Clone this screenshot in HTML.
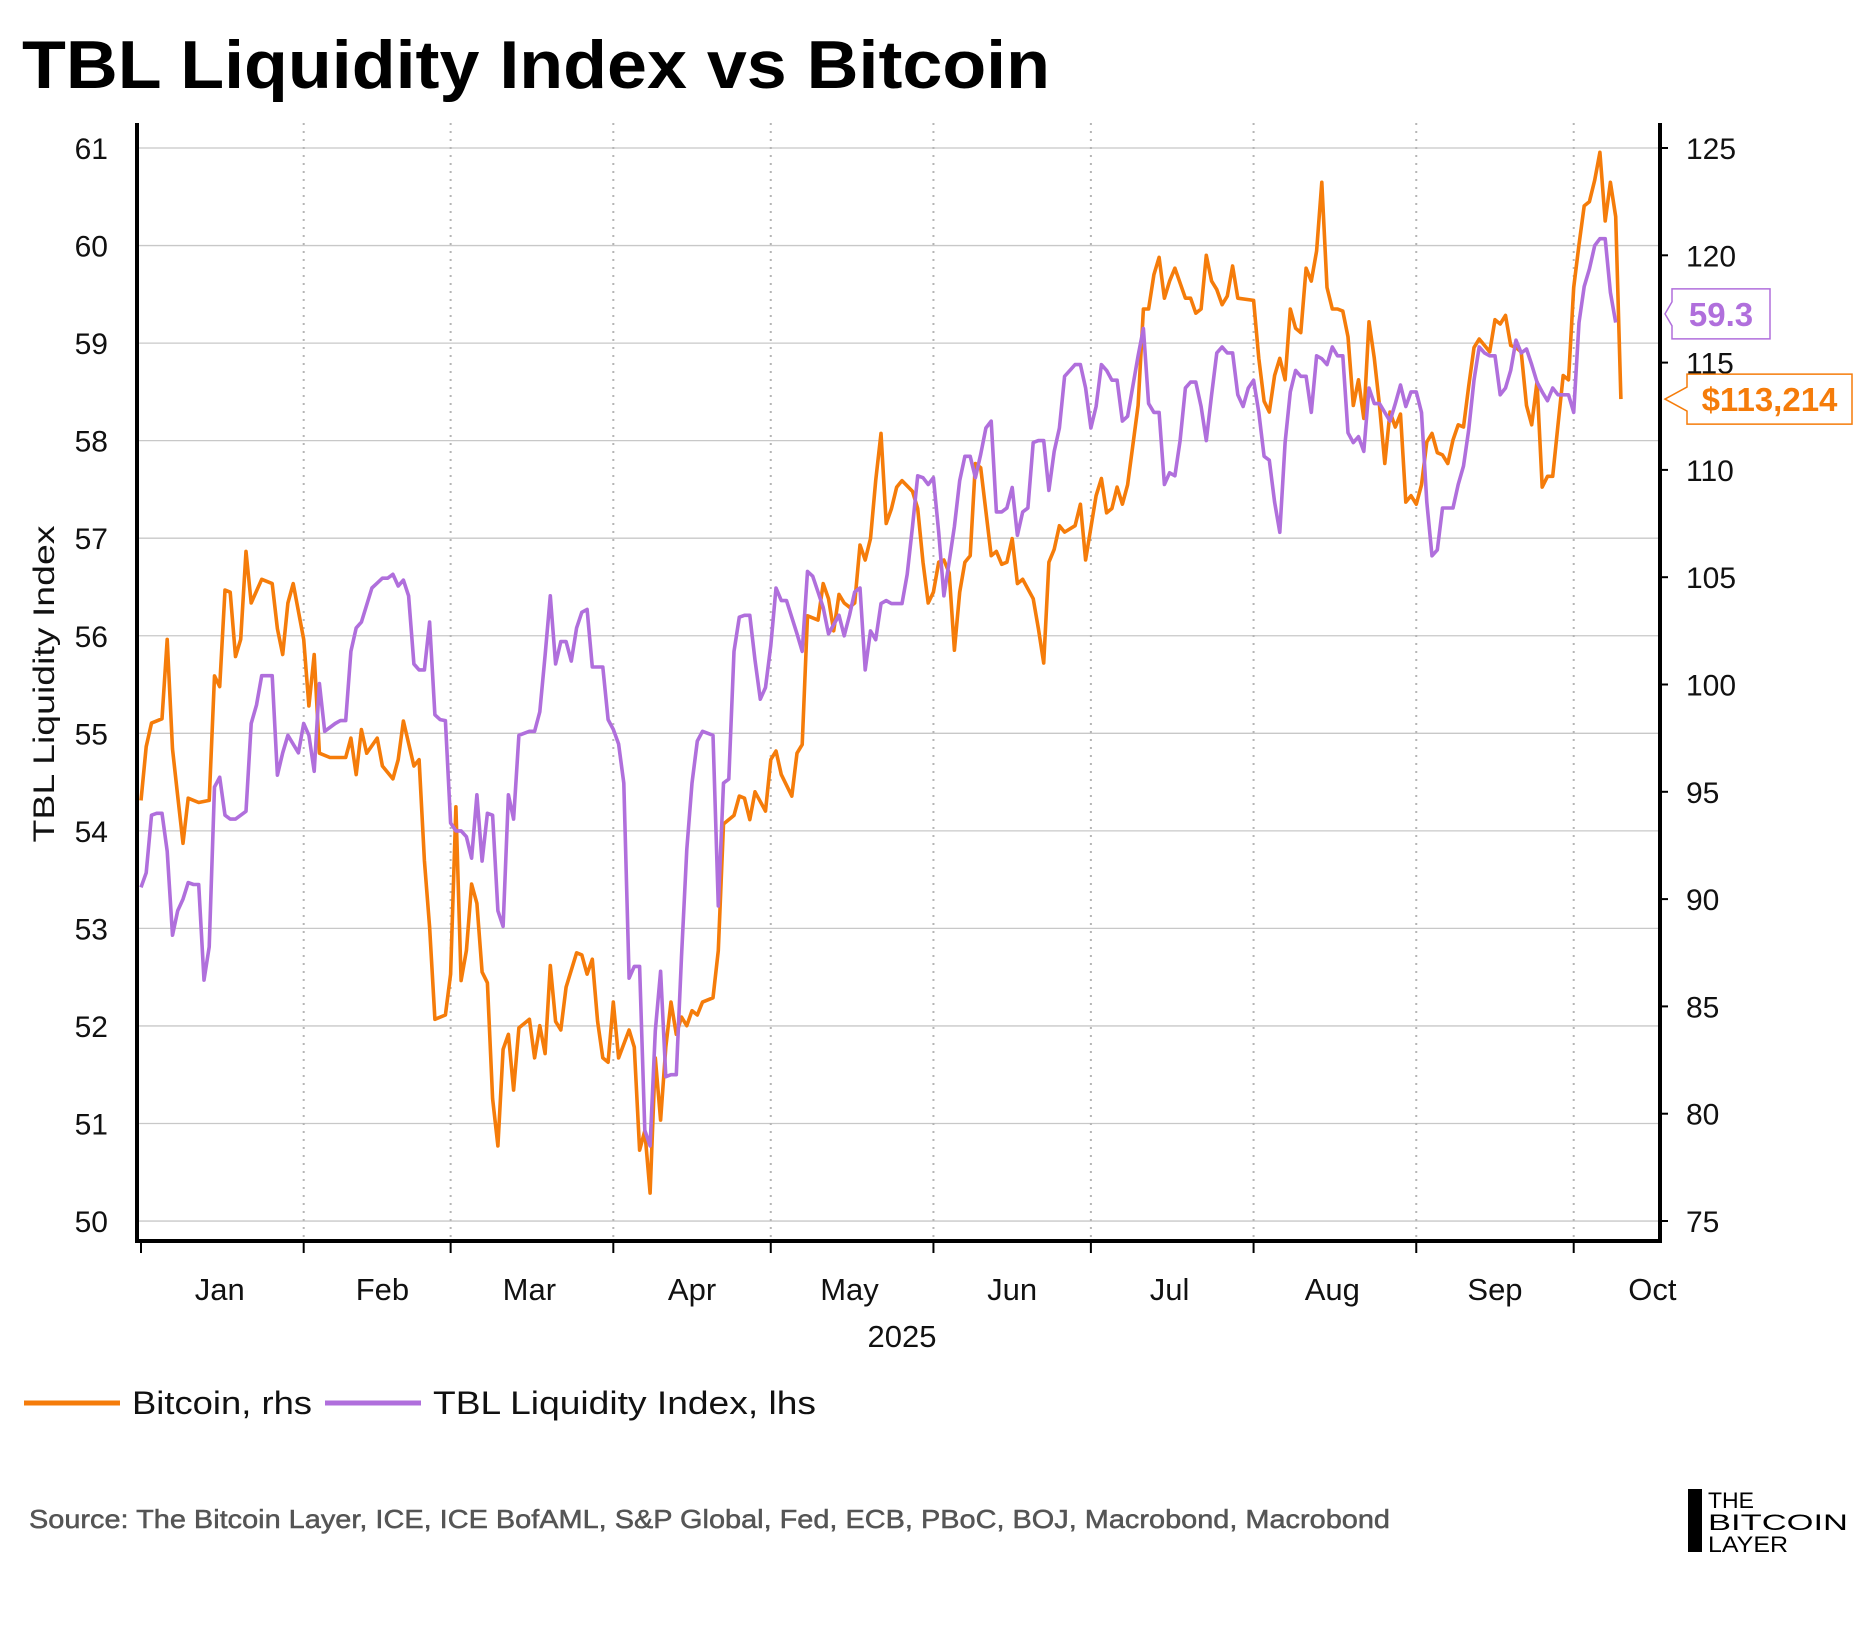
<!DOCTYPE html>
<html><head><meta charset="utf-8"><style>
html,body{margin:0;padding:0;background:#fff;}
svg{display:block;font-family:"Liberation Sans",sans-serif;}
</style></head><body>
<svg id="chart" width="1875" height="1625" viewBox="0 0 1875 1625" xmlns="http://www.w3.org/2000/svg">
<text x="22" y="88" font-size="68" font-weight="bold" fill="#000" textLength="1028" lengthAdjust="spacingAndGlyphs">TBL Liquidity Index vs Bitcoin</text>
<g id="grid"></g>
<g id="marks"></g>
<g id="axes"></g>
<text transform="translate(54,684) rotate(-90)" text-anchor="middle" font-size="30" fill="#111" textLength="317" lengthAdjust="spacingAndGlyphs">TBL Liquidity Index</text>
<text x="902" y="1347" text-anchor="middle" font-size="31" fill="#111">2025</text>
<g>
<line x1="24" y1="1403" x2="120" y2="1403" stroke="#f57c0a" stroke-width="5"/>
<text x="132" y="1414" font-size="32" fill="#111" textLength="180" lengthAdjust="spacingAndGlyphs">Bitcoin, rhs</text>
<line x1="325" y1="1403" x2="421" y2="1403" stroke="#b06fdc" stroke-width="5"/>
<text x="433" y="1414" font-size="32" fill="#111" textLength="383" lengthAdjust="spacingAndGlyphs">TBL Liquidity Index, lhs</text>
</g>
<text x="29" y="1528" font-size="26" fill="#555" stroke="#555" stroke-width="0.5" textLength="1361" lengthAdjust="spacingAndGlyphs">Source: The Bitcoin Layer, ICE, ICE BofAML, S&amp;P Global, Fed, ECB, PBoC, BOJ, Macrobond, Macrobond</text>
<g>
<rect x="1688" y="1489" width="14" height="63" fill="#000"/>
<text x="1708" y="1508" font-size="22" fill="#000" textLength="46" lengthAdjust="spacingAndGlyphs">THE</text>
<text x="1708" y="1530" font-size="22" fill="#000" textLength="140" lengthAdjust="spacingAndGlyphs">BITCOIN</text>
<text x="1708" y="1552" font-size="22" fill="#000" textLength="80" lengthAdjust="spacingAndGlyphs">LAYER</text>
</g>
</svg>
<script>
const months=["Jan","Feb","Mar","Apr","May","Jun","Jul","Aug","Sep","Oct"];
const monthStartDays=[0,31,59,90,120,151,181,212,243,273];
const lhsTicks=[50,51,52,53,54,55,56,57,58,59,60,61];
const rhsTicks=[75,80,85,90,95,100,105,110,115,120,125];
const btcDays=[0,1,2,4,5,6,7,8,9,11,13,14,15,16,17,18,19,20,21,23,25,26,27,28,29,31,32,33,34,36,39,40,41,42,43,45,46,48,49,50,52,53,54,55,56,58,59,60,61,62,63,64,65,66,67,68,69,70,71,72,74,75,76,77,78,79,80,81,83,84,85,86,87,88,89,90,91,93,94,95,96,97,98,99,100,101,102,103,104,105,106,107,109,110,111,113,114,115,116,117,119,120,121,122,124,125,126,127,129,130,131,132,133,134,135,136,137,138,139,140,141,142,143,144,145,147,148,149,150,151,152,153,154,155,156,157,158,159,160,162,163,164,165,166,167,168,170,171,172,173,174,175,176,178,179,180,182,183,184,185,186,187,188,190,191,192,193,194,195,196,197,199,200,201,202,203,204,205,206,207,208,209,212,213,214,215,216,217,218,219,220,221,222,223,224,225,226,227,228,229,230,231,232,233,234,235,236,237,238,239,240,241,242,243,244,245,246,247,248,249,250,251,252,253,254,255,256,257,258,259,260,261,262,263,264,265,266,267,268,269,270,271,272,273,274,275,276,277,278,279,280,281,282];
const btcValues=[94.6,97.1,98.2,98.4,102.1,97,94.8,92.6,94.7,94.5,94.6,100.4,99.9,104.4,104.3,101.3,102.1,106.2,103.8,104.9,104.7,102.6,101.4,103.8,104.7,102.1,99,101.4,96.8,96.6,96.6,97.5,95.8,97.9,96.8,97.5,96.2,95.6,96.5,98.3,96.2,96.5,91.8,88.7,84.4,84.6,86.5,94.3,86.2,87.6,90.7,89.8,86.6,86.1,80.7,78.5,83,83.7,81.1,84,84.4,82.6,84.1,82.8,86.9,84.3,83.9,85.9,87.5,87.4,86.5,87.2,84.3,82.6,82.4,85.2,82.6,83.9,83.1,78.3,79.2,76.3,82.6,79.7,83.1,85.2,83.7,84.5,84.1,84.8,84.6,85.2,85.4,87.6,93.5,93.9,94.8,94.7,93.7,95,94.1,96.5,96.9,95.8,94.8,96.8,97.2,103.2,103,104.7,104,102.5,104.2,103.8,103.6,103.8,106.5,105.8,106.8,109.5,111.7,107.5,108.2,109.2,109.5,109,108.2,105.7,103.8,104.3,105.7,105.8,105.2,101.6,104.3,105.7,106,110.3,110.1,106,106.2,105.6,105.7,106.8,104.7,104.9,104,102.6,101,105.7,106.3,107.4,107.1,107.4,108.4,105.8,108.8,109.6,108,108.2,109.2,108.4,109.3,113,117.5,117.5,119.1,119.9,118,118.8,119.4,118,118,117.3,117.5,120,118.8,118.4,117.7,118.1,119.5,118,117.9,115.2,113.2,112.7,114.4,115.2,114.2,117.5,116.6,116.4,119.4,118.8,120.2,123.4,118.5,117.5,117.5,117.4,116.2,113,114.2,112.4,116.9,115.2,113,110.3,112.7,112,112.6,108.5,108.8,108.4,109.3,111.3,111.7,110.8,110.7,110.3,111.4,112.1,112,113.9,115.7,116.1,115.8,115.5,117,116.8,117.2,115.8,115.7,115.5,113,112.1,114.1,109.2,109.7,109.7,112.1,114.4,114.2,118.5,120.5,122.3,122.5,123.5,124.8,121.6,123.4,121.8,113.3];
const liqDays=[0,1,2,3,4,5,6,7,8,9,10,11,12,13,14,15,16,17,18,20,21,22,23,24,25,26,27,28,30,31,32,33,34,35,37,38,39,40,41,42,44,45,46,47,48,49,50,51,52,53,54,55,56,57,58,59,60,61,62,63,64,65,66,67,68,69,70,71,72,74,75,76,77,78,79,80,81,82,83,84,85,86,88,89,90,91,92,93,94,95,96,97,98,99,100,101,102,103,104,105,106,107,109,110,111,112,113,114,115,116,117,118,119,120,121,122,123,125,126,127,128,129,130,131,133,134,135,136,137,138,139,140,141,142,143,145,146,147,148,149,150,151,152,153,154,155,156,157,158,159,160,161,162,163,164,165,166,167,168,169,170,171,172,173,174,175,176,177,178,179,180,181,182,183,184,185,186,187,188,190,191,192,193,194,195,196,197,198,199,200,201,202,203,204,205,206,207,208,209,210,211,212,213,214,215,216,217,218,219,220,221,222,223,224,225,226,227,228,229,230,231,232,233,234,235,236,237,238,239,240,241,242,243,244,245,246,247,248,249,250,251,252,253,254,255,256,257,258,259,260,261,262,263,264,265,266,267,268,269,270,271,272,273,274,275,276,277,278,279,280,281];
const liqValues=[53.42,53.57,54.16,54.18,54.18,53.79,52.93,53.18,53.3,53.47,53.45,53.45,52.47,52.81,54.45,54.55,54.16,54.12,54.12,54.2,55.1,55.29,55.59,55.59,55.59,54.57,54.8,54.98,54.8,55.1,54.98,54.61,55.51,55.02,55.1,55.13,55.13,55.84,56.08,56.14,56.49,56.54,56.59,56.59,56.63,56.51,56.57,56.41,55.71,55.65,55.65,56.14,55.19,55.14,55.13,54.08,54,54,53.94,53.72,54.37,53.69,54.18,54.16,53.18,53.02,54.37,54.12,54.98,55.02,55.02,55.22,55.8,56.41,55.71,55.94,55.94,55.74,56.08,56.24,56.27,55.68,55.68,55.14,55.04,54.89,54.49,52.49,52.61,52.61,50.93,50.77,51.95,52.56,51.48,51.5,51.5,52.71,53.81,54.49,54.92,55.02,54.98,53.23,54.49,54.53,55.84,56.19,56.21,56.21,55.75,55.35,55.47,55.9,56.49,56.36,56.36,56.02,55.84,56.66,56.61,56.45,56.29,56.02,56.21,56,56.21,56.45,56.49,55.65,56.05,55.96,56.33,56.36,56.33,56.33,56.63,57.12,57.64,57.62,57.55,57.62,57.06,56.41,56.76,57.12,57.59,57.84,57.84,57.62,57.86,58.13,58.2,57.27,57.27,57.31,57.52,57.03,57.27,57.31,57.98,58,58,57.49,57.89,58.13,58.66,58.72,58.78,58.78,58.54,58.13,58.35,58.78,58.72,58.62,58.62,58.2,58.25,58.87,59.15,58.38,58.29,58.29,57.55,57.67,57.64,58,58.54,58.6,58.6,58.35,58,58.47,58.9,58.96,58.9,58.9,58.47,58.35,58.54,58.62,58.29,57.84,57.8,57.37,57.06,57.98,58.5,58.72,58.66,58.66,58.29,58.87,58.84,58.78,58.96,58.87,58.87,58.08,57.98,58.04,57.89,58.54,58.38,58.38,58.29,58.2,58.38,58.57,58.35,58.5,58.5,58.29,57.37,56.82,56.88,57.31,57.31,57.31,57.55,57.74,58.11,58.62,58.96,58.9,58.87,58.87,58.47,58.54,58.72,59.03,58.9,58.94,58.78,58.6,58.5,58.41,58.54,58.47,58.47,58.47,58.29,59.21,59.58,59.76,60,60.07,60.07,59.52,59.21,59.21,59.3];
const btcLast="$113,214", liqLast="59.3";

const NS="http://www.w3.org/2000/svg";
const L=137,R=1660,T=123,B=1241;
const X0=141,DX=5.248;
function xScale(d){return X0+d*DX;}
function yL(v){return 148+(61-v)*97.55;}
function yR(v){return 148+(125-v)*21.46;}
function mk(tag,attrs,parent){const e=document.createElementNS(NS,tag);for(const k in attrs)e.setAttribute(k,attrs[k]);parent.appendChild(e);return e;}
const grid=document.getElementById('grid'),marks=document.getElementById('marks'),axes=document.getElementById('axes');

lhsTicks.forEach(v=>{
  const g=mk('line',{x1:L,x2:R,y1:yL(v),y2:yL(v),stroke:'#c8c8c8','stroke-width':1.3},grid);
  
  
  const t=mk('text',{x:108,y:yL(v)+11,'text-anchor':'end','font-size':30,fill:'#111'},axes);
  t.textContent=v;
  
  
});
rhsTicks.forEach(v=>{
  const t=mk('text',{x:1686,y:yR(v)+11,'font-size':30,fill:'#111'},axes);
  t.textContent=v;
  
  
  const tk=mk('line',{x1:R,x2:R+8,y1:yR(v),y2:yR(v),stroke:'#000','stroke-width':2},axes);
  
  
});
monthStartDays.forEach((d,i)=>{
  const x=xScale(d);
  if(i>0){
    const g=mk('line',{x1:x,x2:x,y1:T,y2:B,stroke:'#b5b5b5','stroke-width':2,'stroke-dasharray':'2,6'},grid);
    
    
  }
  const tk=mk('line',{x1:x,x2:x,y1:B,y2:B+12,stroke:'#000','stroke-width':2},axes);
  
  
  const t=mk('text',{x:xScale(d+15),y:1300,'text-anchor':'middle','font-size':31,fill:'#111'},axes);
  t.textContent=months[i];
  
  
});
const ax1=mk('line',{x1:L,x2:L,y1:T,y2:B+2,stroke:'#000','stroke-width':4},axes);


const ax2=mk('line',{x1:R,x2:R,y1:T,y2:B+2,stroke:'#000','stroke-width':4},axes);


const ax3=mk('line',{x1:L-2,x2:R+2,y1:B,y2:B,stroke:'#000','stroke-width':4},axes);



function path(days,vals,ys){return days.map((d,i)=>(i?'L':'M')+xScale(d).toFixed(1)+','+ys(vals[i]).toFixed(1)).join('');}
const p1=mk('path',{d:path(btcDays,btcValues,yR),fill:'none',stroke:'#f57c0a','stroke-width':3.6,'stroke-linejoin':'round'},marks);


const p2=mk('path',{d:path(liqDays,liqValues,yL),fill:'none',stroke:'#b06fdc','stroke-width':3.6,'stroke-linejoin':'round'},marks);



function badge(yc,x0,w,text,color,name){
  const g=mk('g',{},axes);
  
  
  mk('path',{d:`M${R+5},${yc} L${x0},${yc-12} L${x0},${yc-25} L${x0+w},${yc-25} L${x0+w},${yc+25} L${x0},${yc+25} L${x0},${yc+12} Z`,fill:'#fff',stroke:color,'stroke-width':1.5},g);
  const t=mk('text',{x:x0+w/2,y:yc+12,'text-anchor':'middle','font-size':33,'font-weight':'bold',fill:color},g);
  t.textContent=text;
}
badge(yL(liqValues[liqValues.length-1]),1672,98,liqLast,'#b06fdc','liquidity-last-value-label');
badge(yR(btcValues[btcValues.length-1]),1687,165,btcLast,'#f57c0a','bitcoin-last-value-label');
</script>
</body></html>
